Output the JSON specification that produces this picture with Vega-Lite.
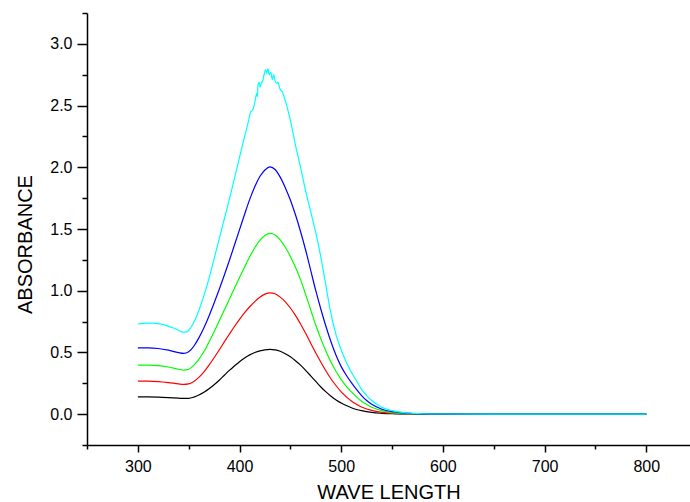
{
  "$schema": "https://vega.github.io/schema/vega-lite/v6.json",
  "width": 603,
  "height": 432,
  "autosize": "none",
  "padding": {"left": 87, "top": 13, "right": 0, "bottom": 57},
  "background": "white",
  "config": {"view": {"stroke": null}, "font": "Liberation Sans"},
  "datasets": {
    "spectra": [
      {"s":"S1","x":300,"y":0.140},{"s":"S1","x":310,"y":0.140},{"s":"S1","x":320,"y":0.138},{"s":"S1","x":330,"y":0.134},{"s":"S1","x":340,"y":0.129},{"s":"S1","x":345,"y":0.127},{"s":"S1","x":350,"y":0.128},{"s":"S1","x":355,"y":0.138},{"s":"S1","x":360,"y":0.155},{"s":"S1","x":365,"y":0.177},{"s":"S1","x":370,"y":0.205},{"s":"S1","x":375,"y":0.238},{"s":"S1","x":380,"y":0.275},{"s":"S1","x":385,"y":0.315},{"s":"S1","x":390,"y":0.355},{"s":"S1","x":395,"y":0.39},{"s":"S1","x":400,"y":0.425},{"s":"S1","x":405,"y":0.455},{"s":"S1","x":410,"y":0.48},{"s":"S1","x":415,"y":0.499},{"s":"S1","x":420,"y":0.513},{"s":"S1","x":425,"y":0.521},{"s":"S1","x":430,"y":0.524},{"s":"S1","x":435,"y":0.521},{"s":"S1","x":440,"y":0.51},{"s":"S1","x":445,"y":0.49},{"s":"S1","x":450,"y":0.465},{"s":"S1","x":455,"y":0.433},{"s":"S1","x":460,"y":0.397},{"s":"S1","x":465,"y":0.355},{"s":"S1","x":470,"y":0.31},{"s":"S1","x":475,"y":0.265},{"s":"S1","x":480,"y":0.22},{"s":"S1","x":485,"y":0.18},{"s":"S1","x":490,"y":0.145},{"s":"S1","x":495,"y":0.115},{"s":"S1","x":500,"y":0.09},{"s":"S1","x":505,"y":0.07},{"s":"S1","x":510,"y":0.052},{"s":"S1","x":515,"y":0.038},{"s":"S1","x":520,"y":0.028},{"s":"S1","x":530,"y":0.014},{"s":"S1","x":540,"y":0.007},{"s":"S1","x":550,"y":0.003},{"s":"S1","x":560,"y":0.001},{"s":"S1","x":600,"y":0},{"s":"S1","x":700,"y":0},{"s":"S1","x":800,"y":0},

      {"s":"S2","x":300,"y":0.267},{"s":"S2","x":310,"y":0.267},{"s":"S2","x":320,"y":0.264},{"s":"S2","x":330,"y":0.256},{"s":"S2","x":340,"y":0.245},{"s":"S2","x":345,"y":0.241},{"s":"S2","x":350,"y":0.245},{"s":"S2","x":355,"y":0.265},{"s":"S2","x":360,"y":0.298},{"s":"S2","x":365,"y":0.343},{"s":"S2","x":370,"y":0.397},{"s":"S2","x":375,"y":0.457},{"s":"S2","x":380,"y":0.52},{"s":"S2","x":385,"y":0.585},{"s":"S2","x":390,"y":0.648},{"s":"S2","x":395,"y":0.71},{"s":"S2","x":400,"y":0.768},{"s":"S2","x":405,"y":0.822},{"s":"S2","x":410,"y":0.87},{"s":"S2","x":415,"y":0.912},{"s":"S2","x":420,"y":0.947},{"s":"S2","x":425,"y":0.972},{"s":"S2","x":430,"y":0.983},{"s":"S2","x":435,"y":0.975},{"s":"S2","x":440,"y":0.948},{"s":"S2","x":445,"y":0.91},{"s":"S2","x":450,"y":0.86},{"s":"S2","x":455,"y":0.80},{"s":"S2","x":460,"y":0.73},{"s":"S2","x":465,"y":0.655},{"s":"S2","x":470,"y":0.575},{"s":"S2","x":475,"y":0.495},{"s":"S2","x":480,"y":0.42},{"s":"S2","x":485,"y":0.35},{"s":"S2","x":490,"y":0.285},{"s":"S2","x":495,"y":0.23},{"s":"S2","x":500,"y":0.18},{"s":"S2","x":505,"y":0.14},{"s":"S2","x":510,"y":0.107},{"s":"S2","x":515,"y":0.08},{"s":"S2","x":520,"y":0.058},{"s":"S2","x":530,"y":0.03},{"s":"S2","x":540,"y":0.015},{"s":"S2","x":550,"y":0.007},{"s":"S2","x":560,"y":0.003},{"s":"S2","x":580,"y":0.001},{"s":"S2","x":600,"y":0},{"s":"S2","x":700,"y":0},{"s":"S2","x":800,"y":0},

      {"s":"S3","x":300,"y":0.397},{"s":"S3","x":310,"y":0.397},{"s":"S3","x":320,"y":0.393},{"s":"S3","x":330,"y":0.382},{"s":"S3","x":340,"y":0.364},{"s":"S3","x":345,"y":0.357},{"s":"S3","x":350,"y":0.364},{"s":"S3","x":355,"y":0.395},{"s":"S3","x":360,"y":0.443},{"s":"S3","x":365,"y":0.507},{"s":"S3","x":370,"y":0.585},{"s":"S3","x":375,"y":0.668},{"s":"S3","x":380,"y":0.755},{"s":"S3","x":385,"y":0.843},{"s":"S3","x":390,"y":0.93},{"s":"S3","x":395,"y":1.02},{"s":"S3","x":400,"y":1.107},{"s":"S3","x":405,"y":1.193},{"s":"S3","x":410,"y":1.275},{"s":"S3","x":415,"y":1.348},{"s":"S3","x":420,"y":1.408},{"s":"S3","x":425,"y":1.448},{"s":"S3","x":430,"y":1.464},{"s":"S3","x":435,"y":1.452},{"s":"S3","x":440,"y":1.412},{"s":"S3","x":445,"y":1.352},{"s":"S3","x":450,"y":1.278},{"s":"S3","x":455,"y":1.19},{"s":"S3","x":460,"y":1.09},{"s":"S3","x":465,"y":0.97},{"s":"S3","x":470,"y":0.845},{"s":"S3","x":475,"y":0.72},{"s":"S3","x":480,"y":0.61},{"s":"S3","x":485,"y":0.51},{"s":"S3","x":490,"y":0.42},{"s":"S3","x":495,"y":0.345},{"s":"S3","x":500,"y":0.28},{"s":"S3","x":505,"y":0.225},{"s":"S3","x":510,"y":0.18},{"s":"S3","x":515,"y":0.14},{"s":"S3","x":520,"y":0.105},{"s":"S3","x":525,"y":0.078},{"s":"S3","x":530,"y":0.056},{"s":"S3","x":540,"y":0.028},{"s":"S3","x":550,"y":0.013},{"s":"S3","x":560,"y":0.006},{"s":"S3","x":580,"y":0.002},{"s":"S3","x":600,"y":0},{"s":"S3","x":700,"y":0},{"s":"S3","x":800,"y":0},

      {"s":"S4","x":300,"y":0.537},{"s":"S4","x":310,"y":0.537},{"s":"S4","x":320,"y":0.532},{"s":"S4","x":330,"y":0.518},{"s":"S4","x":340,"y":0.498},{"s":"S4","x":345,"y":0.492},{"s":"S4","x":350,"y":0.505},{"s":"S4","x":355,"y":0.55},{"s":"S4","x":360,"y":0.618},{"s":"S4","x":365,"y":0.70},{"s":"S4","x":370,"y":0.795},{"s":"S4","x":375,"y":0.90},{"s":"S4","x":380,"y":1.01},{"s":"S4","x":385,"y":1.125},{"s":"S4","x":390,"y":1.245},{"s":"S4","x":395,"y":1.37},{"s":"S4","x":400,"y":1.495},{"s":"S4","x":405,"y":1.62},{"s":"S4","x":410,"y":1.74},{"s":"S4","x":415,"y":1.843},{"s":"S4","x":420,"y":1.925},{"s":"S4","x":425,"y":1.978},{"s":"S4","x":430,"y":2.004},{"s":"S4","x":435,"y":1.982},{"s":"S4","x":440,"y":1.92},{"s":"S4","x":445,"y":1.835},{"s":"S4","x":450,"y":1.735},{"s":"S4","x":455,"y":1.615},{"s":"S4","x":460,"y":1.48},{"s":"S4","x":465,"y":1.33},{"s":"S4","x":470,"y":1.165},{"s":"S4","x":475,"y":1.00},{"s":"S4","x":480,"y":0.85},{"s":"S4","x":485,"y":0.71},{"s":"S4","x":490,"y":0.585},{"s":"S4","x":495,"y":0.475},{"s":"S4","x":500,"y":0.385},{"s":"S4","x":505,"y":0.315},{"s":"S4","x":510,"y":0.255},{"s":"S4","x":515,"y":0.20},{"s":"S4","x":520,"y":0.15},{"s":"S4","x":525,"y":0.11},{"s":"S4","x":530,"y":0.08},{"s":"S4","x":540,"y":0.04},{"s":"S4","x":550,"y":0.02},{"s":"S4","x":560,"y":0.01},{"s":"S4","x":570,"y":0.005},{"s":"S4","x":580,"y":0.002},{"s":"S4","x":600,"y":0},{"s":"S4","x":700,"y":0},{"s":"S4","x":800,"y":0},

      {"s":"S5","x":300,"y":0.73},{"s":"S5","x":305,"y":0.735},{"s":"S5","x":310,"y":0.738},{"s":"S5","x":315,"y":0.737},{"s":"S5","x":320,"y":0.733},{"s":"S5","x":325,"y":0.725},{"s":"S5","x":330,"y":0.713},{"s":"S5","x":335,"y":0.698},{"s":"S5","x":340,"y":0.68},{"s":"S5","x":344,"y":0.664},{"s":"S5","x":348,"y":0.666},{"s":"S5","x":352,"y":0.70},{"s":"S5","x":356,"y":0.76},{"s":"S5","x":360,"y":0.84},{"s":"S5","x":365,"y":0.96},{"s":"S5","x":370,"y":1.10},{"s":"S5","x":375,"y":1.26},{"s":"S5","x":380,"y":1.42},{"s":"S5","x":385,"y":1.58},{"s":"S5","x":390,"y":1.74},{"s":"S5","x":395,"y":1.91},{"s":"S5","x":400,"y":2.08},{"s":"S5","x":405,"y":2.25},{"s":"S5","x":409,"y":2.38},{"s":"S5","x":411,"y":2.45},{"s":"S5","x":412.7,"y":2.46},{"s":"S5","x":414.9,"y":2.52},{"s":"S5","x":416.9,"y":2.60},{"s":"S5","x":417.6,"y":2.57},{"s":"S5","x":418.2,"y":2.67},{"s":"S5","x":419.2,"y":2.69},{"s":"S5","x":420.2,"y":2.65},{"s":"S5","x":421.5,"y":2.68},{"s":"S5","x":423.1,"y":2.71},{"s":"S5","x":424.1,"y":2.75},{"s":"S5","x":425.7,"y":2.79},{"s":"S5","x":426.7,"y":2.76},{"s":"S5","x":428,"y":2.80},{"s":"S5","x":429,"y":2.75},{"s":"S5","x":430.6,"y":2.77},{"s":"S5","x":432.3,"y":2.71},{"s":"S5","x":433.6,"y":2.75},{"s":"S5","x":434.9,"y":2.70},{"s":"S5","x":436.5,"y":2.68},{"s":"S5","x":437.8,"y":2.69},{"s":"S5","x":439.5,"y":2.64},{"s":"S5","x":442.1,"y":2.61},{"s":"S5","x":445,"y":2.54},{"s":"S5","x":450,"y":2.38},{"s":"S5","x":455,"y":2.18},{"s":"S5","x":460,"y":2.0},{"s":"S5","x":465,"y":1.81},{"s":"S5","x":470,"y":1.64},{"s":"S5","x":475,"y":1.47},{"s":"S5","x":480,"y":1.27},{"s":"S5","x":485,"y":1.04},{"s":"S5","x":489,"y":0.85},{"s":"S5","x":495,"y":0.64},{"s":"S5","x":500,"y":0.52},{"s":"S5","x":505,"y":0.42},{"s":"S5","x":510,"y":0.34},{"s":"S5","x":515,"y":0.27},{"s":"S5","x":520,"y":0.20},{"s":"S5","x":525,"y":0.15},{"s":"S5","x":530,"y":0.11},{"s":"S5","x":535,"y":0.08},{"s":"S5","x":540,"y":0.055},{"s":"S5","x":550,"y":0.028},{"s":"S5","x":560,"y":0.014},{"s":"S5","x":570,"y":0.007},{"s":"S5","x":580,"y":0.003},{"s":"S5","x":600,"y":0.001},{"s":"S5","x":650,"y":0},{"s":"S5","x":700,"y":0},{"s":"S5","x":800,"y":0}
    ]
  },
  "data": {"name": "spectra"},
  "mark": {"type": "line", "interpolate": "monotone", "strokeWidth": 1.2, "clip": true},
  "encoding": {
    "x": {
      "field": "x", "type": "quantitative",
      "scale": {"domain": [250, 843], "nice": false, "zero": false},
      "axis": {
        "title": "WAVE LENGTH",
        "values": [250, 300, 350, 400, 450, 500, 550, 600, 650, 700, 750, 800],
        "grid": false,
        "domainColor": "black", "domainWidth": 1.5,
        "tickColor": "black", "tickWidth": 1.5,
        "tickSize": {"condition": {"test": "datum.value % 100 === 0", "value": 7}, "value": 4},
        "labelExpr": "datum.value % 100 === 0 ? format(datum.value, 'd') : ''",
        "labelFont": "Liberation Sans", "labelFontSize": 16, "labelColor": "black",
        "labelPadding": 6, "labelFlush": false, "labelOverlap": false,
        "titleFont": "Liberation Sans", "titleFontSize": 20, "titleFontWeight": "normal",
        "titleColor": "black", "titlePadding": 8
      }
    },
    "y": {
      "field": "y", "type": "quantitative",
      "scale": {"domain": [-0.25, 3.25], "nice": false, "zero": false},
      "axis": {
        "title": "ABSORBANCE",
        "values": [-0.25, 0, 0.25, 0.5, 0.75, 1, 1.25, 1.5, 1.75, 2, 2.25, 2.5, 2.75, 3, 3.25],
        "grid": false,
        "domainColor": "black", "domainWidth": 1.5,
        "tickColor": "black", "tickWidth": 1.5,
        "tickSize": {"condition": {"test": "abs(datum.value * 2 - round(datum.value * 2)) < 0.001", "value": 10}, "value": 5},
        "labelExpr": "abs(datum.value * 2 - round(datum.value * 2)) < 0.001 ? format(datum.value, '.1f') : ''",
        "labelFont": "Liberation Sans", "labelFontSize": 16, "labelColor": "black",
        "labelPadding": 5, "labelFlush": false, "labelOverlap": false,
        "titleFont": "Liberation Sans", "titleFontSize": 20, "titleFontWeight": "normal",
        "titleColor": "black", "titlePadding": 14, "titleY": 231
      }
    },
    "color": {
      "field": "s", "type": "nominal",
      "scale": {"domain": ["S1", "S2", "S3", "S4", "S5"], "range": ["#000000", "#ff0000", "#00ff00", "#0000ff", "#00ffff"]},
      "legend": null
    },
    "order": {"field": "x", "type": "quantitative"}
  }
}
